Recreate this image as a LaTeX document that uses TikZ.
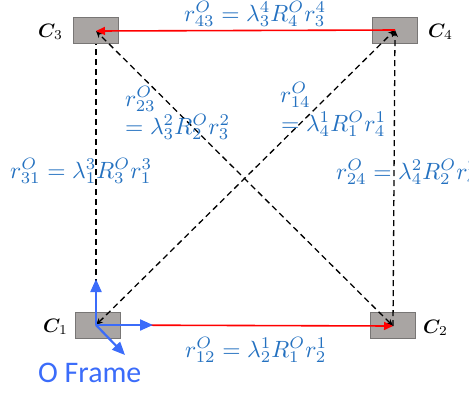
\documentclass[tikz,border=0pt]{standalone}
\usepackage{amsmath,bm}
\usepackage{graphicx}
\usepackage{fontspec}
\newfontfamily\carl{Carlito}
\usetikzlibrary{arrows.meta}
\definecolor{eqblue}{RGB}{36,113,192}
\definecolor{frblue}{RGB}{59,108,250}
\definecolor{boxgray}{RGB}{169,165,163}
\definecolor{boxedge}{RGB}{120,118,117}
\newcommand\eqbig[1]{\scalebox{2.36}{$#1$}}
\newcommand\labbig[1]{\scalebox{1.95}{$#1$}}
\tikzset{
  cam/.style={rectangle,draw=boxedge,fill=boxgray,line width=1pt,minimum width=45bp,minimum height=26bp,inner sep=0pt},
  eq/.style={text=eqblue,anchor=base west,inner sep=0pt},
  lab/.style={anchor=base west,inner sep=0pt},
  dashline/.style={black,line width=1.3pt,dash pattern=on 6bp off 4bp},
  redarr/.style={red,line width=1.6pt,-{Triangle[length=9bp,width=8bp]}},
  blk/.tip={Stealth[length=7bp,width=6bp]},
  frarr/.style={frblue,line width=2.2pt,-{Triangle[length=13bp,width=11bp]}}
}
\begin{document}
\begin{tikzpicture}[x=1bp,y=-1bp]
\useasboundingbox (0,0) rectangle (469,392);
% cameras
\node[cam] (c3) at (96,30) {};
\node[cam] (c4) at (395,30) {};
\node[cam] (c1) at (98,325) {};
\node[cam] (c2) at (393,325) {};
\coordinate (p3) at (96,31);
\coordinate (p4) at (395,30);
\coordinate (p1) at (96,325);
\coordinate (p2) at (393,326);
% labels
\node[lab] (L3) at (38,37) {\labbig{\bm{C}_3}};
\node[lab] (L4) at (428,37) {\labbig{\bm{C}_4}};
\node[lab] (L1) at (43,332) {\labbig{\bm{C}_1}};
\node[lab] (L2) at (423,333) {\labbig{\bm{C}_2}};
% dashed connectors
\draw[dashline] (p1) -- (c3.south);
\draw[dashline,-{blk}] (p2) -- (p4);
\draw[dashline,{blk}-{blk}] (p1) -- (p4);
\draw[dashline,{blk}-{blk}] (p2) -- (p3);
% red connectors
\draw[redarr] (p4) -- (p3);
\draw[redarr] (p1) -- (p2);
% O frame
\coordinate (fx) at (153,325);
\coordinate (fy) at (96,279);
\coordinate (fz) at (125,355);
\draw[frarr] (p1) -- (fx);
\draw[frarr] (p1) -- (fy);
\draw[frarr] (p1) -- (fz);
\node[anchor=base west,inner sep=0pt,text=frblue,font=\carl\fontsize{30}{32}\selectfont] (of) at (38,382) {O Frame};
% equations
\node[eq] (e43) at (184,21) {\eqbig{r^{O}_{43} = \lambda^4_3 R^{O}_4 r^4_3}};
\node[eq] (e23a) at (125,106) {\eqbig{r^{O}_{23}}};
\node[eq] (e23b) at (125,134) {\eqbig{= \lambda^2_3 R^{O}_2 r^2_3}};
\node[eq] (e14a) at (280,102) {\eqbig{r^{O}_{14}}};
\node[eq] (e14b) at (281,131) {\eqbig{= \lambda^1_4 R^{O}_1 r^1_4}};
\node[eq] (e31) at (10,178) {\eqbig{r^{O}_{31} = \lambda^3_1 R^{O}_3 r^3_1}};
\node[eq] (e24) at (336,179) {\eqbig{r^{O}_{24} = \lambda^2_4 R^{O}_2 r^2_4}};
\node[eq] (e12) at (185,357) {\eqbig{r^{O}_{12} = \lambda^1_2 R^{O}_1 r^1_2}};
\end{tikzpicture}
\end{document}
